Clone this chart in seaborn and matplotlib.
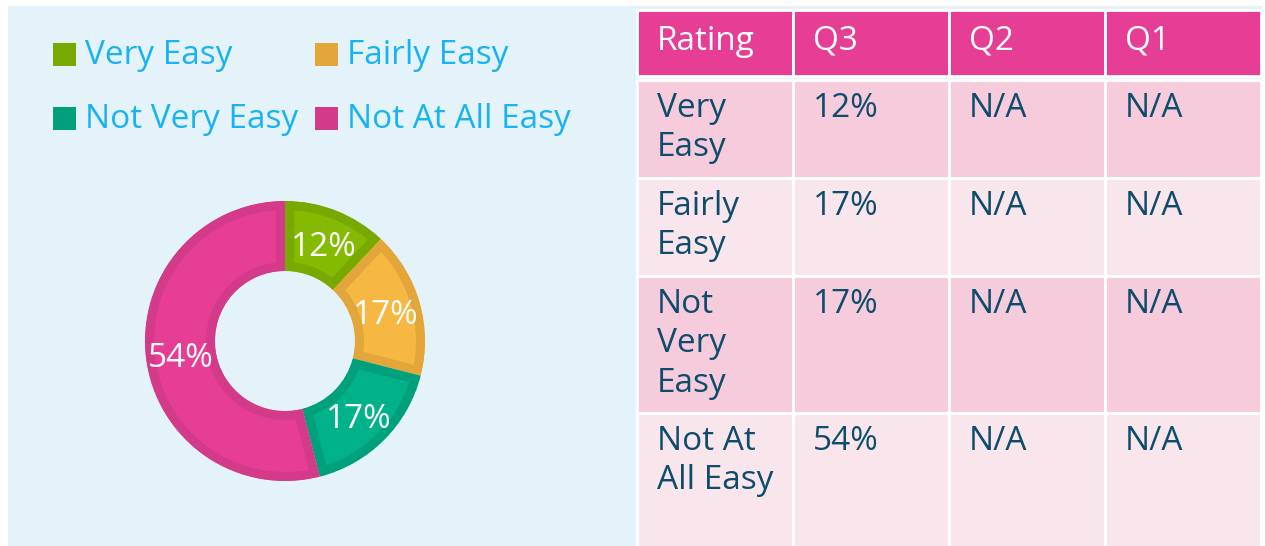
"""Ease rating: donut chart plus quarter table."""
# %%
import matplotlib

matplotlib.use("Agg")
import matplotlib.pyplot as plt
import seaborn as sns
from matplotlib.patches import Rectangle

# %%
categories = ["Very Easy", "Fairly Easy", "Not Very Easy", "Not At All Easy"]
q3_pct = [12, 17, 17, 54]
q2_vals = ["N/A", "N/A", "N/A", "N/A"]
q1_vals = ["N/A", "N/A", "N/A", "N/A"]
table_header = ["Rating", "Q3", "Q2", "Q1"]
table_labels = ["Very\nEasy", "Fairly\nEasy", "Not\nVery\nEasy", "Not At\nAll Easy"]

fill_colors = ["#84BB00", "#F7B743", "#00B18A", "#E63E95"]
edge_colors = ["#77A900", "#E2A63B", "#00A07C", "#D43A8A"]

PANEL = "#E4F3FA"
LEGEND_TXT = "#18B3F0"
HEAD = "#E63E95"
ROW_DARK = "#F6CCDD"
ROW_LIGHT = "#F9E6ED"
BODY_TXT = "#0E4C6B"
FS = 24

# %%
sns.set_theme(style="white")
plt.rcParams["font.family"] = ["Open Sans", "DejaVu Sans"]

W, H = 1265, 546
fig = plt.figure(figsize=(W / 100, H / 100), dpi=100)
fig.patch.set_facecolor("white")

# pixel canvas for panel, legend and table
ax = fig.add_axes([0, 0, 1, 1])
ax.set_xlim(0, W)
ax.set_ylim(H, 0)
ax.axis("off")
ax.add_patch(Rectangle((8, 6), 1254, 540, color=PANEL, lw=0))

# legend
leg_x = [53, 315, 53, 315]
leg_y = [43, 43, 107, 107]
for lab, col, x, y in zip(categories, edge_colors, leg_x, leg_y):
    ax.add_patch(Rectangle((x, y), 23, 23, color=col, lw=0))
    ax.text(x + 32, y + 12, lab, color=LEGEND_TXT, fontsize=FS, va="center", ha="left")

# table
col_edges = [637, 793, 949, 1105, 1261]
row_edges = [80, 178, 276, 413, 548]
for j, name in enumerate(table_header):
    x0, x1 = col_edges[j], col_edges[j + 1]
    ax.add_patch(Rectangle((x0, 10), x1 - x0, 66, facecolor=HEAD, edgecolor="white", lw=2))
    ax.text(x0 + 20, 41, name, color="white", fontsize=FS, va="center", ha="left")

rows = [[lab, f"{p}%", a, b] for lab, p, a, b in zip(table_labels, q3_pct, q2_vals, q1_vals)]
for i, row in enumerate(rows):
    y0, y1 = row_edges[i], row_edges[i + 1]
    bg = ROW_DARK if i % 2 == 0 else ROW_LIGHT
    for j, val in enumerate(row):
        x0, x1 = col_edges[j], col_edges[j + 1]
        ax.add_patch(Rectangle((x0, y0), x1 - x0, y1 - y0, facecolor=bg, edgecolor="white", lw=2))
        ax.text(x0 + 20, y0 + 12, val, color=BODY_TXT, fontsize=FS, va="top", ha="left",
                linespacing=1.25)

# %%
# donut
cx, cy, r = 285, 341, 140
ax2 = fig.add_axes([(cx - r) / W, (H - cy - r) / H, 2 * r / W, 2 * r / H])
wedges, texts, autotexts = ax2.pie(
    q3_pct,
    colors=fill_colors,
    startangle=90,
    counterclock=False,
    radius=1,
    autopct=lambda p: f"{round(p)}%",
    pctdistance=0.75,
    wedgeprops=dict(width=0.5),
    textprops=dict(color="white", fontsize=FS),
)
for t in autotexts:
    t.set_va("center_baseline")
ax2.set_xlim(-1, 1)
ax2.set_ylim(-1, 1)
ax2.axis("off")
# darker inner stroke: stroke twice as wide, clipped to the wedge itself
for w, ec in zip(wedges, edge_colors):
    w.set_edgecolor(ec)
    w.set_linewidth(13)
    w.set_clip_on(True)
    w.set_clip_path(w.get_path(), w.get_transform())

plt.savefig("out.png", dpi=100, facecolor="white")
